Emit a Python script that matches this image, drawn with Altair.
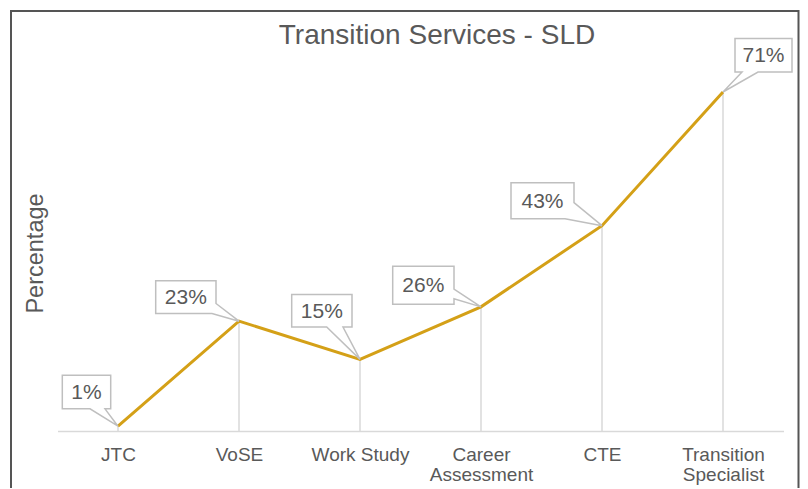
import altair as alt
import pandas as pd

# ---- data ----
categories = ["JTC", "VoSE", "Work Study", "Career Assessment", "CTE", "Transition Specialist"]
values = [1, 23, 15, 26, 43, 71]

title_text = "Transition Services - SLD"
y_title = "Percentage"

# ---- callout styling (pixel geometry relative to each point) ----
CALLOUTS = {
    "JTC": dict(box=(-55.7, -7.3, -51.0, -17.4), kind="bottom", a=-13, b=-28),
    "VoSE": dict(box=(-83.3, -23.0, -40.3, -7.7), kind="corner", a=-17.7, b=-27),
    "Work Study": dict(box=(-68.3, -8.0, -65.0, -32.3), kind="bottom", a=-17, b=-33.3),
    "Career Assessment": dict(box=(-88.3, -27.0, -40.7, -2.7), kind="right", a=-17.7, b=-8),
    "CTE": dict(box=(-91.0, -28.0, -43.0, -7.0), kind="corner", a=-23, b=-37),
    "Transition Specialist": dict(box=(12.0, 69.0, -53.4, -20.0), kind="bottom", a=35, b=19),
}


def callout_path(box, kind, a, b):
    x0, x1, y0, y1 = box
    pts = [(x0, y0), (x1, y0)]
    if kind == "corner":
        pts += [(x1, a), (0, 0), (b, y1)]
    elif kind == "right":
        pts += [(x1, a), (0, 0), (x1, b), (x1, y1)]
    else:
        pts += [(x1, y1), (a, y1), (0, 0), (b, y1)]
    pts += [(x0, y1)]
    return "M" + " L".join(f"{x:.1f},{y:.1f}" for x, y in pts) + " Z"


df = pd.DataFrame({"category": categories, "value": values})
df["label"] = [f"{v}%" for v in values]
df["path"] = [callout_path(**CALLOUTS[c]) for c in categories]

W, H = 726, 382
GOLD = "#D4A017"
TXT = "#595959"

xenc = alt.X(
    "category:N",
    sort=categories,
    scale=alt.Scale(type="point", padding=0.5, domain=categories),
    axis=alt.Axis(
        title=None,
        labelAngle=0,
        labelColor=TXT,
        labelFontSize=19,
        labelPadding=14.5,
        labelLineHeight=19.5,
        labelExpr="datum.label == 'Work Study' ? datum.label : split(datum.label, ' ')",
        ticks=False,
        tickSize=0,
        grid=False,
        domainColor="#d9d9d9",
        domainWidth=1.5,
    ),
)
yenc = alt.Y(
    "value:Q",
    scale=alt.Scale(domain=[0, 80]),
    axis=alt.Axis(
        title=y_title,
        labels=False,
        ticks=False,
        domain=False,
        grid=False,
        titleColor=TXT,
        titleFontSize=23.5,
        titleFontWeight="normal",
        titleAngle=-90,
        titleBaseline="alphabetic",
        titleAlign="center",
        titleX=-15.5,
        titleY=204,
    ),
)

base = alt.Chart(df)

frame = alt.Chart(pd.DataFrame({"k": [0]})).mark_rect(
    fill="transparent", stroke="#555555", strokeWidth=2
).encode(
    x=alt.value(-46.5), x2=alt.value(741), y=alt.value(-38), y2=alt.value(470)
)

rules = base.mark_rule(color="#d9d9d9", strokeWidth=1.5).encode(
    x=xenc, y=yenc, y2=alt.datum(0)
)

line = base.mark_line(color=GOLD, strokeWidth=3).encode(x=xenc, y=yenc)

callouts = base.mark_point(
    filled=True, fill="white", stroke="#bfbfbf", strokeWidth=1.5, opacity=1, size=4
).encode(x=xenc, y=yenc, shape=alt.Shape("path:N", scale=None, legend=None))

texts = []
for c in categories:
    x0, x1, y0, y1 = CALLOUTS[c]["box"]
    texts.append(
        base.transform_filter(alt.datum.category == c)
        .mark_text(
            fontSize=21, color=TXT, align="center", baseline="middle",
            dx=(x0 + x1) / 2, dy=(y0 + y1) / 2 + 1,
        )
        .encode(x=xenc, y=yenc, text="label:N")
    )

title = alt.Chart(pd.DataFrame({"t": [title_text]})).mark_text(
    fontSize=28, color=TXT, align="center", baseline="alphabetic"
).encode(x=alt.value(379.5), y=alt.value(-5.3), text="t:N")

chart = alt.layer(frame, rules, line, callouts, *texts, title).properties(
    width=W,
    height=H,
    autosize="none",
    padding={"left": 49.5, "top": 41, "right": 16.5, "bottom": 57},
).configure(font="Liberation Sans").configure_view(stroke=None)

chart.save("out.html", embed_options={"renderer": "svg", "actions": False})
